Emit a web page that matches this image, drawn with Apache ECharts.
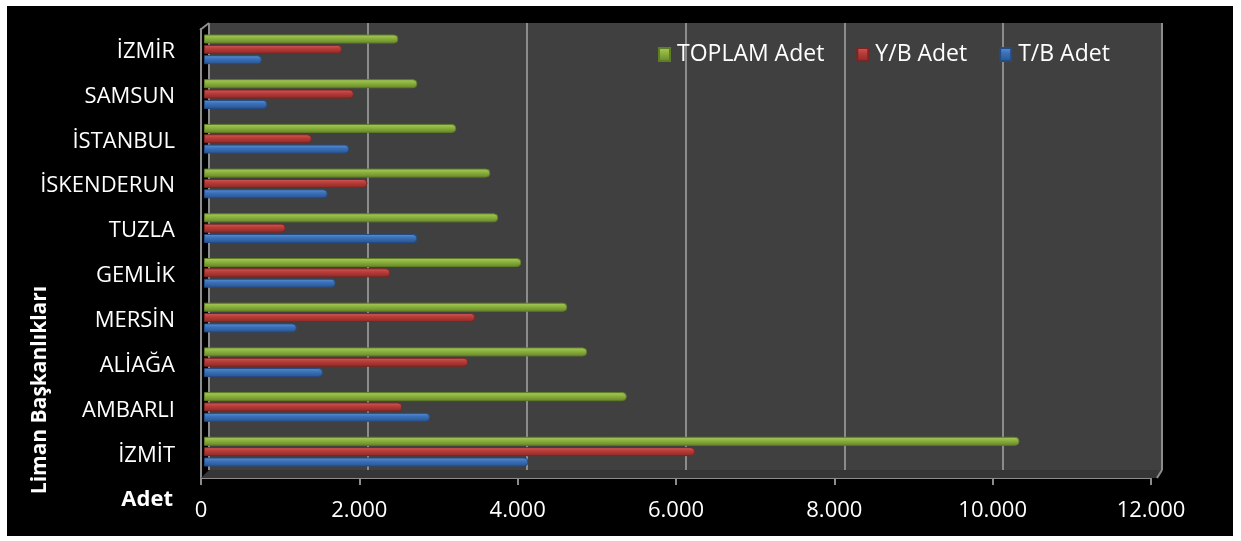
<!DOCTYPE html>
<html>
<head>
<meta charset="utf-8">
<script src="https://cdn.jsdelivr.net/npm/echarts@6/dist/echarts.min.js"></script>
<style>
html, body { margin: 0; padding: 0; background: #fff; }
#chart { position: absolute; left: 7px; top: 6px; width: 1226px; height: 530px; background: #000; }
</style>
</head>
<body>
<div id="chart"></div>
<script>
// liman başkanlıkları, yukarıdan aşağıya
var limanlar = ['İZMİR', 'SAMSUN', 'İSTANBUL', 'İSKENDERUN', 'TUZLA', 'GEMLİK', 'MERSİN', 'ALİAĞA', 'AMBARLI', 'İZMİT'];
var toplamAdet = [2450, 2690, 3180, 3610, 3710, 4000, 4580, 4830, 5330, 10280];
var ybAdet = [1740, 1890, 1360, 2060, 1030, 2350, 3420, 3330, 2500, 6190];
var tbAdet = [730, 800, 1830, 1560, 2690, 1660, 1170, 1500, 2850, 4090];
var seriNames = ['TOPLAM Adet', 'Y/B Adet', 'T/B Adet'];
var xMin = 0, xMax = 12000, xStep = 2000;

var myChart = echarts.init(document.getElementById('chart'));

var FONT = 'Open Sans';
var gridColor = '#8c8c8c';

// silindir görünümü için dikey degrade
var cyl = function (light, base, dark) {
    return new echarts.graphic.LinearGradient(0, 0, 0, 1, [
        { offset: 0, color: light },
        { offset: 0.4, color: base },
        { offset: 1, color: dark }
    ]);
};

var fmt = function (v) {
    return String(v).replace(/\B(?=(\d{3})+(?!\d))/g, '.');
};

var barSeries = function (name, data, fill, edge) {
    return {
        name: name,
        type: 'bar',
        xAxisIndex: 1,
        yAxisIndex: 1,
        data: data,
        barWidth: 9,
        barGap: '15%',
        itemStyle: {
            color: fill,
            borderColor: edge,
            borderWidth: 1,
            borderRadius: [0, 4, 4, 0]
        },
        emphasis: { disabled: true }
    };
};

var option = {
    animation: false,
    grid: [
        // arka duvar
        { left: 202, top: 17, width: 953, height: 447, show: true, backgroundColor: '#404040', borderWidth: 0 },
        // çubuklar
        { left: 197, top: 21, width: 952, height: 447 },
        // ön eksen
        { left: 194, top: 23, width: 950, height: 449 }
    ],
    legend: {
        data: seriNames,
        left: 646,
        top: 32,
        itemWidth: 11,
        itemHeight: 13,
        itemGap: 32,
        icon: 'rect',
        textStyle: { color: '#fff', fontFamily: FONT, fontSize: 23, padding: [0, 0, 0, 2] }
    },
    xAxis: [
        {
            gridIndex: 0, type: 'value', min: xMin, max: xMax, interval: xStep,
            axisLine: { show: false }, axisTick: { show: false }, axisLabel: { show: false },
            splitLine: { show: true, lineStyle: { color: gridColor, width: 2 } }
        },
        {
            gridIndex: 1, type: 'value', min: xMin, max: xMax, interval: xStep, show: false
        },
        {
            gridIndex: 2, type: 'value', min: xMin, max: xMax, interval: xStep,
            axisLine: { show: true, lineStyle: { color: gridColor, width: 2 } },
            axisTick: { show: true, length: 7, lineStyle: { color: gridColor, width: 2 } },
            axisLabel: { color: '#fff', fontFamily: FONT, fontSize: 22, margin: 22, formatter: fmt },
            splitLine: { show: false }
        }
    ],
    yAxis: [
        { gridIndex: 0, type: 'category', data: limanlar, inverse: true, show: false },
        { gridIndex: 1, type: 'category', data: limanlar, inverse: true, show: false },
        {
            gridIndex: 2, type: 'category', data: limanlar, inverse: true,
            axisLine: { show: true, lineStyle: { color: gridColor, width: 2 } },
            axisTick: { show: false },
            axisLabel: { color: '#fff', fontFamily: FONT, fontSize: 22, margin: 26, padding: [5, 0, 0, 0] },
            splitLine: { show: false }
        }
    ],
    graphic: [
        {
            type: 'polygon', z: 1, silent: true,
            shape: { points: [[202, 464], [1155, 464], [1150, 472], [194, 472]] },
            style: { fill: '#363636' }
        },
        {
            type: 'polyline', z: 3, silent: true,
            shape: { points: [[1155, 464], [1150, 472]] },
            style: { stroke: gridColor, lineWidth: 2, fill: null }
        },
        {
            type: 'polyline', z: 3, silent: true,
            shape: { points: [[193, 24], [202, 17]] },
            style: { stroke: gridColor, lineWidth: 2, fill: null }
        },
        {
            type: 'text', x: 33, y: 384, rotation: Math.PI / 2, silent: true,
            style: {
                text: 'Liman Başkanlıkları', fill: '#fff', fontFamily: FONT, fontWeight: 'bold',
                fontSize: 21, align: 'center', verticalAlign: 'middle'
            }
        },
        {
            type: 'text', x: 166, y: 494, silent: true,
            style: {
                text: 'Adet', fill: '#fff', fontFamily: FONT, fontWeight: 'bold',
                fontSize: 22, align: 'right', verticalAlign: 'middle'
            }
        }
    ],
    series: [
        barSeries(seriNames[0], toplamAdet, cyl('#a9cc62', '#8db43e', '#67852a'), '#5f7c26'),
        barSeries(seriNames[1], ybAdet, cyl('#d35e5a', '#b93d39', '#8a2927'), '#7e2523'),
        barSeries(seriNames[2], tbAdet, cyl('#5f93d4', '#3b71ba', '#28538f'), '#244c84')
    ]
};

myChart.setOption(option);
</script>
</body>
</html>
